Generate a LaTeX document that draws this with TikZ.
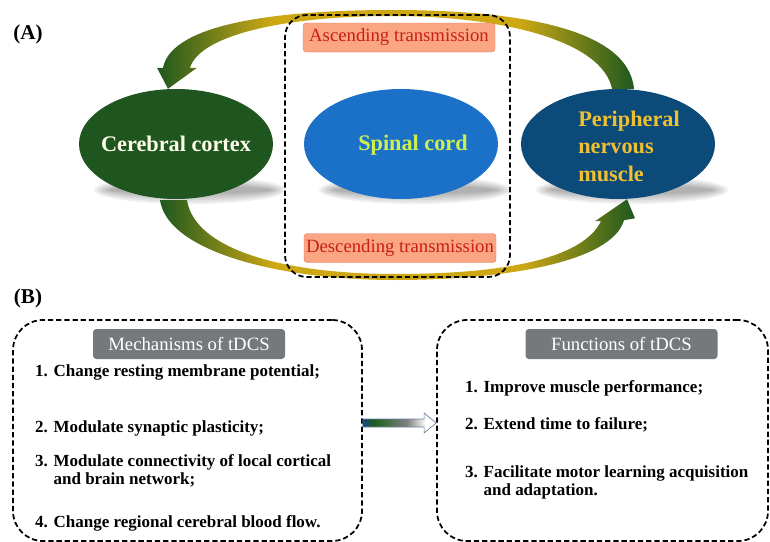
\documentclass[tikz,border=0pt]{standalone}
\usepackage{fontspec}
\setmainfont{Liberation Serif}
\usetikzlibrary{shapes.geometric,calc,backgrounds}
\definecolor{cortexgreen}{RGB}{31,86,31}
\definecolor{cordblue}{RGB}{27,112,200}
\definecolor{nervenavy}{RGB}{12,74,122}
\definecolor{cordtext}{RGB}{205,240,80}
\definecolor{nervetext}{RGB}{240,192,48}
\definecolor{bandgreen}{RGB}{30,88,30}
\definecolor{bandgold}{RGB}{205,168,20}
\definecolor{salmon}{RGB}{250,165,132}
\definecolor{transred}{RGB}{200,32,20}
\definecolor{titlegray}{RGB}{118,121,124}
\definecolor{gapnavy}{RGB}{20,70,120}
\definecolor{gapgreen}{RGB}{30,95,30}
\definecolor{arrowrim}{RGB}{110,130,165}
\pgfdeclarehorizontalshading{bandgrad}{100bp}{color(0bp)=(bandgreen); color(25bp)=(bandgreen); color(37bp)=(bandgold); color(63bp)=(bandgold); color(75bp)=(bandgreen); color(100bp)=(bandgreen)}
\pgfdeclarehorizontalshading{gapgrad}{100bp}{color(0bp)=(gapnavy); color(25bp)=(gapnavy); color(33bp)=(gapgreen); color(55bp)=(gray); color(68bp)=(white); color(100bp)=(white)}
\begin{document}
\begin{tikzpicture}[x=0.3mm,y=-0.3mm,
  organ/.style={ellipse,minimum width=58.2mm,minimum height=33mm,inner sep=0pt},
  organtext/.style={font=\fontsize{19}{23.4}\selectfont\bfseries},
  dashbox/.style={draw,dash pattern=on 4.5pt off 2.5pt,line width=1.5pt},
  transbox/.style={draw=transred!35!salmon,fill=salmon,rounded corners=1mm,minimum width=57.6mm,minimum height=8.7mm,inner sep=0pt,text=transred,font=\fontsize{16}{18}\selectfont},
  titlebox/.style={fill=titlegray,rounded corners=1mm,minimum width=57.6mm,minimum height=9mm,inner sep=0pt,text=white,font=\fontsize{16}{18}\selectfont},
  item/.style={anchor=west,align=left,inner sep=0pt,font=\fontsize{14.5}{15.6}\selectfont\bfseries},
  panel/.style={font=\fontsize{18}{20}\selectfont\bfseries}]
\useasboundingbox (0,0) rectangle (770,542);

\path
(176,144) node[organ,fill=cortexgreen] (cortex) {}
          node[organtext,text=white!92!yellow] (cortexlbl) {Cerebral cortex}
(401,144) node[organ,fill=cordblue] (cord) {}
          +(12,1) node[organtext,text=cordtext] (cordlbl) {Spinal cord}
(618,144) node[organ,fill=nervenavy] (nerve) {}
          +(11,2) node[organtext,text=nervetext,align=left] (nervelbl) {Peripheral\\nervous\\muscle};

\begin{scope}[on background layer]
% soft shadows under the ellipses
\foreach \o in {cortex,cord,nerve}
  \foreach \k in {0,...,5}
    \fill[black,opacity=.06] ($(\o.center)+(14,46)$) ellipse ({96-3*\k} and {14-2*\k});
% ascending
\shade[shading=bandgrad] ($(nerve.north)+(-6,0)$)
  .. controls (602,40) and (500,16) .. (392,16)
  .. controls (285,16) and (200,35) .. ($(cortex.north)+(14,-21)$)
  -- ++(7,0) -- ($(cortex.north)+(-8,0)$) -- ($(cortex.north)+(-19,-21)$) -- ++(6,0)
  .. controls (172,22) and (285,10) .. (392,10)
  .. controls (505,10) and (628,25) .. ($(nerve.north)+(16,0)$) -- cycle;
% descending
\shade[shading=bandgrad] ($(cortex.south)+(-16,1)$)
  .. controls (168,252) and (280,280) .. (395,280)
  .. controls (505,280) and (612,262) .. ($(nerve.south)+(6,21)$)
  -- ($(nerve.south)+(17,19)$) -- ($(nerve.south)+(9,0)$)
  -- ($(nerve.south)+(-23,22)$) -- ($(nerve.south)+(-17,22)$)
  .. controls (582,260) and (500,274) .. (395,274)
  .. controls (285,274) and (195,250) .. ($(cortex.south)+(11,1)$) -- cycle;
\end{scope}

\node[dashbox,rounded corners=6.6mm,minimum width=67.5mm,minimum height=78.6mm] (relay) at (397.5,146) {};
\node[transbox] (asc) at (399,37.5) {Ascending transmission};
\node[transbox] (desc) at (400,248) {Descending transmission};

\node[panel] (pa) at (28,34) {(A)};
\node[panel] (pb) at (28,298) {(B)};

\node[dashbox,rounded corners=9mm,minimum width=104.7mm,minimum height=66.3mm] (mech) at (187.5,430.5) {};
\node[dashbox,rounded corners=9mm,minimum width=99.3mm,minimum height=66.3mm] (func) at (602.5,430.5) {};
\node[titlebox] (mechtitle) at (189,344) {Mechanisms of tDCS};
\node[titlebox] (functitle) at (621.5,344) {Functions of tDCS};

\node[item] (m1) at (35,372) {1. Change resting membrane potential;};
\node[item] (m2) at (35,428) {2. Modulate synaptic plasticity;};
\node[item] (m3) at (35,471) {3. Modulate connectivity of local cortical\\\phantom{3. }and brain network;};
\node[item] (m4) at (35,523) {4. Change regional cerebral blood flow.};

\node[item] (f1) at (465,388) {1. Improve muscle performance;};
\node[item] (f2) at (465,425) {2. Extend time to failure;};
\node[item] (f3) at (465,482.5) {3. Facilitate motor learning acquisition\\\phantom{3. }and adaptation.};

\shade[shading=gapgrad,draw=arrowrim,line width=.6pt]
  ($(mech.east)+(0,-11.5)$) -- ($(func.west)+(-12,-11.5)$) -- ($(func.west)+(-12,-17.5)$)
  -- ($(func.west)+(0,-7.5)$) -- ($(func.west)+(-12,2.5)$) -- ($(func.west)+(-12,-3.5)$)
  -- ($(mech.east)+(0,-3.5)$) -- cycle;
\end{tikzpicture}
\end{document}
